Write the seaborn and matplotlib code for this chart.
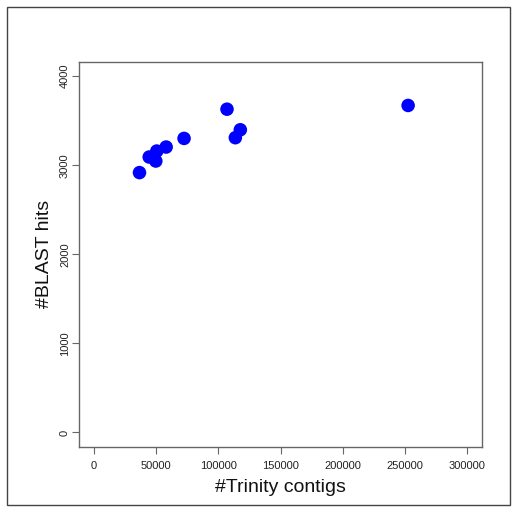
import matplotlib
matplotlib.use("Agg")
import matplotlib.pyplot as plt
import seaborn as sns
import pandas as pd
from matplotlib.patches import Rectangle

trinity_contigs = [36600, 44400, 49700, 50500, 58000, 72400, 106900, 113600, 117600, 252400]
blast_hits = [2918, 3093, 3048, 3160, 3205, 3302, 3630, 3310, 3399, 3672]
x_ticks = [0, 50000, 100000, 150000, 200000, 250000, 300000]
y_ticks = [0, 1000, 2000, 3000, 4000]

df = pd.DataFrame({"contigs": trinity_contigs, "hits": blast_hits})

sns.set_style("white")
plt.rcParams["font.family"] = ["Liberation Sans", "DejaVu Sans"]

fig = plt.figure(figsize=(5.12, 5.19), dpi=100)
W, H = 512, 519
ax = fig.add_axes([79 / W, 1 - 446.7 / H, (482.3 - 79) / W, (446.7 - 62) / H])

sns.scatterplot(data=df, x="contigs", y="hits", ax=ax, color="#0000ff",
                s=95, edgecolor="none", linewidth=0, legend=False)

ax.set_xlim(-12000, 312000)
ax.set_ylim(-160, 4160)
ax.set_xticks(x_ticks)
ax.set_xticklabels([str(v) for v in x_ticks])
ax.set_yticks(y_ticks)
ax.set_yticklabels([str(v) for v in y_ticks], rotation=90, va="center")

for sp in ax.spines.values():
    sp.set_color("#666666")
    sp.set_linewidth(1.0)
    sp.set_visible(True)

ax.tick_params(axis="both", which="both", length=5, width=0.8, color="#666666",
               labelsize=8, labelcolor="#222222", direction="out")
ax.tick_params(axis="x", bottom=True, pad=5)
ax.tick_params(axis="y", left=True, pad=1.5)

ax.set_xlabel("#Trinity contigs", fontsize=14, color="#111111", labelpad=6)
ax.set_ylabel("#BLAST hits", fontsize=14, color="#111111", labelpad=5)

# outer page frame
fig.patches.append(Rectangle((7 / W, 1 - 505 / H), (510 - 7) / W, (505 - 7) / H,
                             transform=fig.transFigure, fill=False,
                             edgecolor="#444444", linewidth=1.0))

fig.savefig("out.png", dpi=100)
